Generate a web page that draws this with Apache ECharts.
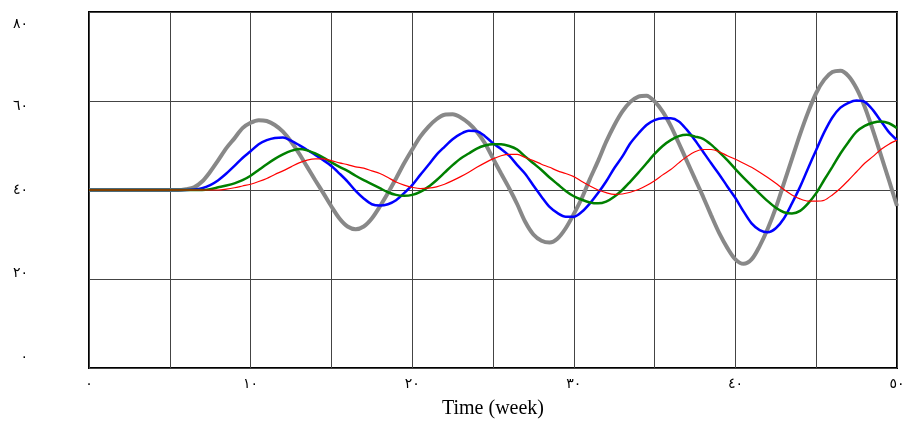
<!DOCTYPE html>
<html>
<head>
<meta charset="utf-8">
<script src="https://cdn.jsdelivr.net/npm/echarts@6/dist/echarts.min.js"></script>
<style>
  html, body { margin: 0; padding: 0; background: #fff; }
  #trend { width: 907px; height: 425px; }
</style>
</head>
<body>
<div id="trend"></div>
<script>
const weeks = [
  0, 0.5, 1, 1.5, 2, 2.5, 3, 3.5, 4, 4.5,
  5, 5.5, 6, 6.5, 7, 7.5, 8, 8.5, 9, 9.5,
  10, 10.5, 11, 11.5, 12, 12.5, 13, 13.5, 14, 14.5,
  15, 15.5, 16, 16.5, 17, 17.5, 18, 18.5, 19, 19.5,
  20, 20.5, 21, 21.5, 22, 22.5, 23, 23.5, 24, 24.5,
  25, 25.5, 26, 26.5, 27, 27.5, 28, 28.5, 29, 29.5,
  30, 30.5, 31, 31.5, 32, 32.5, 33, 33.5, 34, 34.5,
  35, 35.5, 36, 36.5, 37, 37.5, 38, 38.5, 39, 39.5,
  40, 40.5, 41, 41.5, 42, 42.5, 43, 43.5, 44, 44.5,
  45, 45.5, 46, 46.5, 47, 47.5, 48, 48.5, 49, 49.5,
  50
];

const grayValues = [
  40, 40, 40, 40, 40, 40, 40, 40, 40, 40,
  40, 40, 40.2, 40.6, 41.9, 44.1, 46.7, 49.4, 51.6, 53.9,
  55.1, 55.7, 55.5, 54.6, 53.1, 50.9, 48.2, 45.2, 42.2, 39.3,
  36.3, 33.6, 31.8, 31.2, 31.8, 33.6, 36.3, 39.3, 42.6, 46.0,
  49.1, 52.0, 54.2, 55.9, 56.9, 57.0, 56.3, 55.0, 53.1, 50.5,
  47.1, 43.7, 40.4, 36.8, 32.8, 30.0, 28.6, 28.2, 29.1, 31.4,
  34.6, 38.2, 42.5, 46.5, 50.8, 54.5, 57.6, 59.8, 61.0, 61.2,
  59.9, 57.6, 54.4, 50.5, 46.5, 42.5, 38.5, 34.3, 30.3, 27.0,
  24.4, 23.4, 24.4, 27.4, 31.3, 36.0, 41.5, 47.0, 52.5, 57.5,
  61.8, 64.8, 66.5, 66.8, 65.6, 62.8, 58.7, 53.5, 47.9, 42.2,
  36.4
];

const blueValues = [
  40, 40, 40, 40, 40, 40, 40, 40, 40, 40,
  40, 40, 40, 40.1, 40.4, 41.1, 42.2, 43.7, 45.4, 47.2,
  48.7, 50.3, 51.2, 51.7, 51.8, 51.1, 50.1, 49.0, 47.9, 46.7,
  45.4, 43.7, 41.9, 39.8, 38.1, 36.8, 36.5, 36.8, 37.7, 39.3,
  41.1, 43.4, 45.6, 47.9, 49.7, 51.4, 52.6, 53.3, 53.2, 52.1,
  50.5, 49.2, 47.7, 45.6, 43.6, 41.0, 38.5, 36.2, 34.8, 34.0,
  34.0, 35.1, 37.0, 39.3, 41.9, 44.9, 47.5, 50.5, 52.7, 54.6,
  55.7, 56.1, 56.1, 55.4, 53.5, 51.2, 48.6, 46.0, 43.5, 40.8,
  38.2, 35.2, 32.5, 31.0, 30.5, 31.4, 33.6, 37.0, 40.7, 44.9,
  49.0, 53.0, 56.3, 58.5, 59.6, 60.1, 59.8, 58.0, 55.5, 53.0,
  51.2
];

const greenValues = [
  40, 40, 40, 40, 40, 40, 40, 40, 40, 40,
  40, 40, 40, 40, 40, 40.2, 40.6, 41.0, 41.5, 42.2,
  43.2, 44.5, 45.8, 47.0, 48.0, 48.8, 49.2, 48.9, 48.2, 47.3,
  46.2, 45.2, 44.3, 43.2, 42.2, 41.3, 40.4, 39.5, 38.9, 38.7,
  38.9, 39.6, 40.7, 42.2, 43.9, 45.6, 47.1, 48.2, 49.3, 50.0,
  50.3, 50.3, 49.9, 49.1, 47.5, 46.0, 44.5, 42.8, 41.3, 39.8,
  38.6, 37.8, 37.2, 37.0, 37.4, 38.5, 40.0, 41.9, 43.9, 46.0,
  48.1, 49.9, 51.2, 52.1, 52.4, 52.0, 51.5, 50.2, 48.5, 46.7,
  44.7, 42.8, 41.0, 39.2, 37.5, 36.0, 35.0, 34.7, 35.3, 37.0,
  39.3, 42.3, 45.2, 48.2, 50.8, 53.1, 54.4, 55.1, 55.4, 55.0,
  53.9
];

const redValues = [
  40, 40, 40, 40, 40, 40, 40, 40, 40, 40,
  40, 40, 40, 40, 40, 40, 40, 40.2, 40.5, 40.9,
  41.3, 41.9, 42.6, 43.5, 44.3, 45.2, 46.1, 46.7, 47.0, 47.0,
  46.6, 46.1, 45.7, 45.2, 44.9, 44.3, 43.7, 42.8, 41.8, 41.1,
  40.6, 40.3, 40.4, 40.7, 41.3, 42.1, 43.0, 44.0, 45.1, 46.1,
  47.0, 47.7, 48.0, 48.0, 47.3, 46.6, 45.8, 45.1, 44.3, 43.7,
  43.0, 41.9, 40.9, 40.0, 39.4, 39.0, 39.1, 39.5, 40.1, 41.0,
  42.1, 43.4, 44.6, 46.1, 47.5, 48.6, 49.1, 49.1, 48.6, 47.7,
  46.9, 46.0, 45.1, 44.0, 42.8, 41.5, 40.1, 38.9, 38.0, 37.5,
  37.5, 37.7, 38.9, 40.4, 42.2, 44.1, 46.0, 47.5, 49.1, 50.3,
  51.2
];

const xTickLabels = ["٠", "١٠", "٢٠", "٣٠", "٤٠", "٥٠"];
const yTickLabels = ["٠", "٢٠", "٤٠", "٦٠", "٨٠"];

function pairs(values) {
  return weeks.map((w, i) => [w, values[i]]);
}

let myChart = echarts.init(document.getElementById("trend"));
const lineColor = "#444";
const font = "'Liberation Serif', 'DejaVu Sans', serif";

// y labels in the picture sit a bit closer together than the grid lines
const yLabelRich = {
  y0: { padding: [0, 0, 22, 0] },
  y20: { padding: [0, 0, 12, 0] },
  y40: { padding: [0, 0, 0, 0] },
  y60: { padding: [11, 0, 0, 0] },
  y80: { padding: [24, 0, 0, 0] }
};

function lineSeries(values, color, width) {
  return {
    type: "line",
    data: pairs(values),
    smooth: 0.3,
    showSymbol: false,
    lineStyle: { color: color, width: width }
  };
}

let option = {
  animation: false,
  grid: {
    left: 89,
    right: 10,
    top: 12,
    bottom: 57,
    outerBoundsMode: "none",
    containLabel: false,
    show: true,
    borderColor: "#000",
    borderWidth: 2,
    backgroundColor: "#fff"
  },
  xAxis: {
    type: "value",
    min: 0,
    max: 50,
    interval: 5,
    name: "Time (week)",
    nameLocation: "middle",
    nameGap: 31,
    nameTextStyle: {
      color: "#000",
      fontFamily: font,
      fontSize: 20
    },
    axisLine: { show: false },
    axisTick: { show: false },
    axisLabel: {
      color: "#000",
      fontFamily: font,
      fontSize: 14,
      margin: 9,
      formatter: v => (v % 10 === 0 ? xTickLabels[v / 10] : "")
    },
    splitLine: {
      show: true,
      lineStyle: { color: lineColor, width: 1 }
    }
  },
  yAxis: {
    type: "value",
    min: 0,
    max: 80,
    interval: 20,
    axisLine: { show: false },
    axisTick: { show: false },
    axisLabel: {
      color: "#000",
      fontFamily: font,
      fontSize: 14,
      margin: 61,
      formatter: v => "{y" + v + "|" + yTickLabels[v / 20] + "}",
      rich: yLabelRich
    },
    splitLine: {
      show: true,
      lineStyle: { color: lineColor, width: 1 }
    }
  },
  series: [
    lineSeries(grayValues, "#888888", 4),
    lineSeries(blueValues, "#0000ff", 2.5),
    lineSeries(greenValues, "#008000", 2.5),
    lineSeries(redValues, "#ff0000", 1.2)
  ]
};
myChart.setOption(option);
</script>
</body>
</html>
